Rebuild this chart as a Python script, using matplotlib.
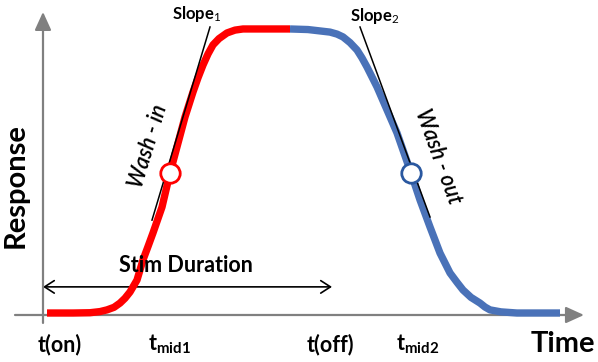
import matplotlib
matplotlib.use("Agg")
import matplotlib.pyplot as plt

plt.rcParams['font.family'] = ['Lato', 'DejaVu Sans']
plt.rcParams['mathtext.fontset'] = 'custom'
plt.rcParams['mathtext.rm'] = 'Lato'
plt.rcParams['mathtext.bf'] = 'Lato:bold'
plt.rcParams['mathtext.it'] = 'Lato:italic'

# ---- data (time units arbitrary, response normalised 0..1) ----
washin_t = [0.4, 3.0, 4.7, 5.7, 6.4, 7.1, 7.7, 8.2, 8.7, 9.4, 10.0, 10.5, 11.0,
            11.9, 12.7, 13.4, 14.2, 15.0, 15.5, 16.0, 16.5, 17.0, 17.6, 18.4,
            19.2, 20.0, 24.7]
washin_r = [0.0, 0.0, 0.001, 0.005, 0.011, 0.02, 0.035, 0.052, 0.074, 0.116,
            0.187, 0.234, 0.282, 0.373, 0.493, 0.585, 0.690, 0.778, 0.828,
            0.873, 0.912, 0.944, 0.966, 0.986, 0.996, 1.0, 1.0]

washout_t = [24.7, 26.5, 28.7, 29.4, 30.0, 30.7, 31.4, 31.9, 32.4, 33.4, 34.4,
             35.4, 36.8, 37.7, 38.7, 39.7, 40.7, 41.4, 42.0, 42.8, 43.7, 44.2,
             44.7, 45.8, 47.4, 51.7]
washout_r = [1.0, 0.998, 0.989, 0.982, 0.972, 0.952, 0.926, 0.898, 0.866,
             0.796, 0.715, 0.634, 0.493, 0.398, 0.303, 0.211, 0.141, 0.108,
             0.081, 0.055, 0.035, 0.021, 0.011, 0.004, 0.0, 0.0]

mid_t = [12.7, 36.8]
mid_r = [0.493, 0.493]

slope1_t = [10.9, 16.7]
slope1_r = [0.327, 1.007]
slope2_t = [31.7, 38.7]
slope2_r = [1.007, 0.338]

stim_t = [0.0, 28.9]
stim_r = 0.092

tick_labels = ['t(on)', r't$_{\mathbf{mid1}}$', 't(off)', r't$_{\mathbf{mid2}}$']
tick_pos = [1.7, 12.6, 28.7, 37.5]

# ---- figure ----
fig = plt.figure(figsize=(5.98, 3.62), dpi=100)
ax = fig.add_axes([0, 0, 1, 1])
ax.set_xlim(-4.3, 55.5)
ax.set_ylim(-0.1725, 1.102)
ax.axis('off')

gray = '#808080'
red = '#FF0000'
blue = '#4A72B8'

# axes arrows
ax.annotate('', xy=(54.1, -0.007), xytext=(-2.8, -0.007),
            arrowprops=dict(arrowstyle='-|>,head_length=1.1,head_width=0.5',
                            color=gray, lw=1.6, shrinkA=0, shrinkB=0,
                            mutation_scale=10))
ax.annotate('', xy=(0.0, 1.06), xytext=(0.0, -0.035),
            arrowprops=dict(arrowstyle='-|>,head_length=1.1,head_width=0.5',
                            color=gray, lw=1.6, shrinkA=0, shrinkB=0,
                            mutation_scale=10))

# stim duration arrow
ax.annotate('', xy=(stim_t[1], stim_r), xytext=(stim_t[0], stim_r),
            arrowprops=dict(arrowstyle='<->,head_length=0.7,head_width=0.45',
                            color='black', lw=1.2, shrinkA=0, shrinkB=0,
                            mutation_scale=10), zorder=2)

# curves
ax.plot(washout_t, washout_r, color=blue, lw=5.3, solid_capstyle='butt',
        solid_joinstyle='round', zorder=3)
ax.plot(washin_t, washin_r, color=red, lw=5.3, solid_capstyle='butt',
        solid_joinstyle='round', zorder=3)

# tangent lines
ax.plot(slope1_t, slope1_r, color='black', lw=1.1, zorder=4)
ax.plot(slope2_t, slope2_r, color='black', lw=1.1, zorder=4)

# midpoints
ax.plot(mid_t[0], mid_r[0], 'o', ms=14, mfc='white', mec=red, mew=2, zorder=5)
ax.plot(mid_t[1], mid_r[1], 'o', ms=14, mfc='white', mec='#2A58A0', mew=2, zorder=5)

# texts
ax.text(15.4, 1.053, r'Slope$_{1}$', fontsize=12, fontweight='bold',
        ha='center', va='center')
ax.text(33.2, 1.046, r'Slope$_{2}$', fontsize=12, fontweight='bold',
        ha='center', va='center')
ax.text(10.5, 0.588, 'Wash - in', fontsize=15.5, style='italic',
        fontweight='semibold', rotation=73, ha='center', va='center')
ax.text(39.5, 0.55, 'Wash - out', fontsize=15.5, style='italic',
        fontweight='semibold', rotation=-70, ha='center', va='center')
ax.text(14.3, 0.169, 'Stim Duration', fontsize=15.5, fontweight='bold',
        ha='center', va='center')
ax.text(-2.75, 0.45, 'Response', fontsize=21, fontweight='bold',
        rotation=90, ha='center', va='center')
ax.text(52.0, -0.137, 'Time', fontsize=21, fontweight='bold',
        ha='center', va='baseline')
for lab, pos in zip(tick_labels, tick_pos):
    ax.text(pos, -0.134, lab, fontsize=15.5, fontweight='bold',
            ha='center', va='baseline')

fig.savefig('out.png', dpi=100)
